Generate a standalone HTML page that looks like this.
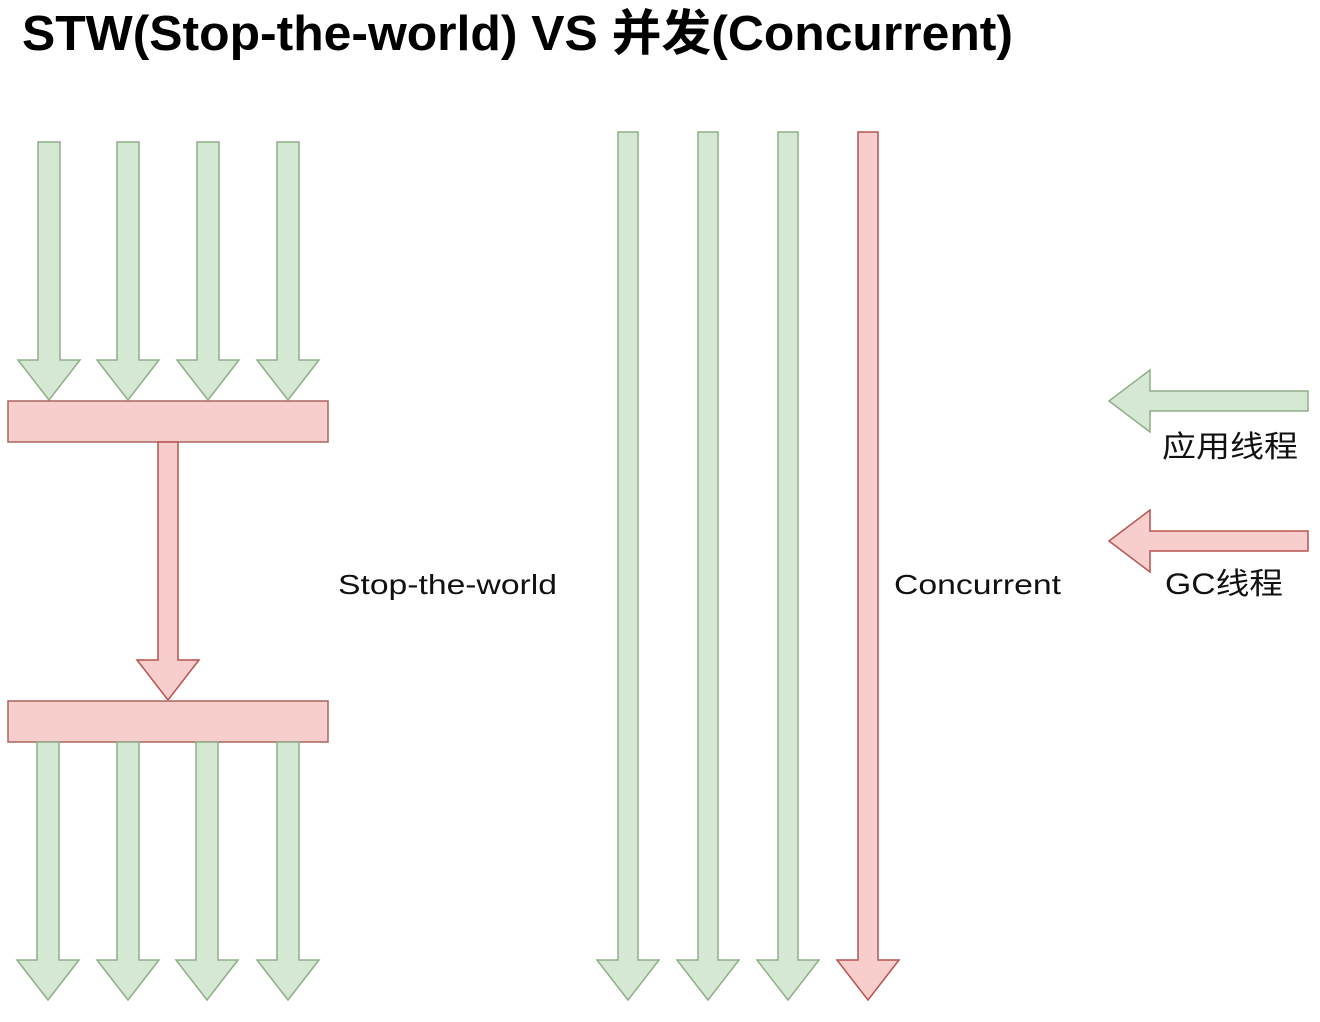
<!DOCTYPE html>
<html><head><meta charset="utf-8"><style>
html,body{margin:0;padding:0;background:#fff;}
svg{display:block;}
</style></head><body>
<svg width="1320" height="1022" viewBox="0 0 1320 1022" xmlns="http://www.w3.org/2000/svg">
<defs>
<g id="dg"><polygon points="-11,0 11,0 11,218 31,218 0,258 -31,218 -11,218" fill="#d5e8d4" stroke="#8fae86" stroke-width="1.5"/></g>
</defs>
<text x="22" y="50" font-family="Liberation Sans, Noto Sans CJK SC, sans-serif" font-weight="bold" font-size="49" textLength="991" lengthAdjust="spacingAndGlyphs" fill="#000">STW(Stop-the-world) VS 并发(Concurrent)</text>

<use href="#dg" x="49" y="142"/>
<use href="#dg" x="128" y="142"/>
<use href="#dg" x="208" y="142"/>
<use href="#dg" x="288" y="142"/>
<rect x="8" y="401" width="320" height="41" fill="#f8cecc" stroke="#a86660" stroke-width="1.5"/>
<polygon points="158,442 178,442 178,660 199,660 168,700 137,660 158,660" fill="#f8cecc" stroke="#b85450" stroke-width="1.5"/>
<rect x="8" y="701" width="320" height="41" fill="#f8cecc" stroke="#a86660" stroke-width="1.5"/>
<use href="#dg" x="48" y="742"/>
<use href="#dg" x="128" y="742"/>
<use href="#dg" x="207" y="742"/>
<use href="#dg" x="288" y="742"/>

<polygon points="618,132 638,132 638,960 659,960 628,1000 597,960 618,960" fill="#d5e8d4" stroke="#8fae86" stroke-width="1.5"/>
<polygon points="698,132 718,132 718,960 739,960 708,1000 677,960 698,960" fill="#d5e8d4" stroke="#8fae86" stroke-width="1.5"/>
<polygon points="778,132 798,132 798,960 819,960 788,1000 757,960 778,960" fill="#d5e8d4" stroke="#8fae86" stroke-width="1.5"/>
<polygon points="858,132 878,132 878,960 899,960 868,1000 837,960 858,960" fill="#f8cecc" stroke="#b85450" stroke-width="1.5"/>

<text x="338" y="594" font-family="Liberation Sans, sans-serif" font-size="28" textLength="219" lengthAdjust="spacingAndGlyphs" fill="#111">Stop-the-world</text>
<text x="894" y="594" font-family="Liberation Sans, sans-serif" font-size="28" textLength="167" lengthAdjust="spacingAndGlyphs" fill="#111">Concurrent</text>

<polygon points="1308,391 1308,411 1150,411 1150,432 1109,401 1150,370 1150,391" fill="#d5e8d4" stroke="#8fae86" stroke-width="1.5"/>
<text x="1162" y="457" font-family="Liberation Sans, Noto Sans CJK SC, sans-serif" font-size="30" textLength="136" lengthAdjust="spacingAndGlyphs" fill="#111">应用线程</text>
<polygon points="1308,531 1308,551 1150,551 1150,572 1109,541 1150,510 1150,531" fill="#f8cecc" stroke="#b85450" stroke-width="1.5"/>
<text x="1165" y="594" font-family="Liberation Sans, Noto Sans CJK SC, sans-serif" font-size="30" textLength="118" lengthAdjust="spacingAndGlyphs" fill="#111">GC线程</text>
</svg>
</body></html>
